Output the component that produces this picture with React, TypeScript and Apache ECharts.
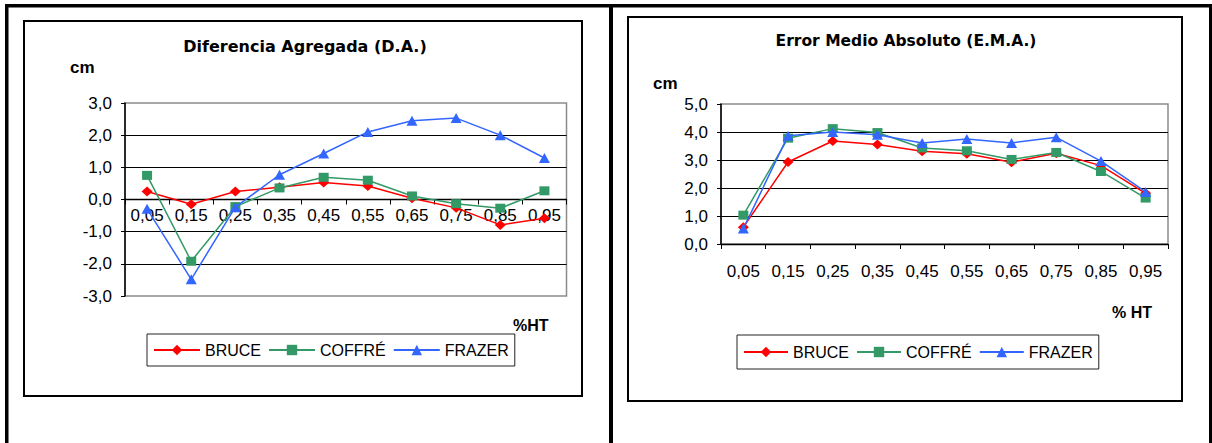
import React, { useEffect, useRef } from "react";
import * as echarts from "echarts";

// Heights along the stem (%HT)
const categories = ["0,05", "0,15", "0,25", "0,35", "0,45", "0,55", "0,65", "0,75", "0,85", "0,95"];
const seriesNames = ["BRUCE", "COFFRÉ", "FRAZER"];

// Diferencia Agregada (cm)
const daBruce = [0.25, -0.15, 0.25, 0.38, 0.53, 0.42, 0.04, -0.26, -0.79, -0.58];
const daCoffre = [0.75, -1.92, -0.22, 0.36, 0.69, 0.6, 0.11, -0.13, -0.27, 0.27];
const daFrazer = [-0.29, -2.48, -0.24, 0.77, 1.43, 2.1, 2.45, 2.53, 2.0, 1.29];

// Error Medio Absoluto (cm)
const emaBruce = [0.6, 2.93, 3.68, 3.55, 3.31, 3.22, 2.92, 3.24, 2.8, 1.81];
const emaCoffre = [1.03, 3.78, 4.12, 3.98, 3.43, 3.33, 3.02, 3.27, 2.59, 1.64];
const emaFrazer = [0.55, 3.87, 4.0, 3.9, 3.61, 3.75, 3.61, 3.81, 2.96, 1.86];

const colors = ["#ff0000", "#339966", "#3366ff"];
const symbols = ["diamond", "rect", "triangle"];
const symbolSizes = [[11, 10], [10, 9], [11, 10]];

const ARIAL = '"Liberation Sans", Arial, sans-serif';
const TITLE_FONT = '"DejaVu Sans", sans-serif';

// Plot areas
const DA_GRID = { left: 125, top: 103, width: 441.5, height: 193 };
const EMA_GRID = { left: 721, top: 104, width: 447, height: 140 };
const DA_MIN = -3;
const DA_MAX = 3;

const fmt = (v: number) => v.toFixed(1).replace(".", ",");

function lineSeries(name: string, idx: number, data: number[], axis: number) {
  return {
    type: "line",
    name,
    xAxisIndex: axis,
    yAxisIndex: axis,
    data,
    symbol: symbols[idx],
    symbolSize: symbolSizes[idx],
    lineStyle: { color: colors[idx], width: 1.5 },
    itemStyle: { color: colors[idx] },
    emphasis: { disabled: true },
    z: 3 + idx,
  };
}

function valueAxis(grid: number, min: number, max: number) {
  return {
    type: "value",
    gridIndex: grid,
    min,
    max,
    interval: 1,
    axisLine: { show: true, lineStyle: { color: "#000", width: 1.5 } },
    axisTick: { show: true, length: 4, lineStyle: { color: "#000" } },
    axisLabel: {
      formatter: fmt,
      fontSize: 17,
      fontFamily: ARIAL,
      color: "#000",
      margin: 13,
    },
    splitLine: {
      show: true,
      showMinLine: false,
      showMaxLine: false,
      lineStyle: { color: "#000", width: 1 },
    },
  };
}

// The category axis sits on the zero line of the value axis: shift it up
// from the grid bottom by the distance between the minimum and zero.
function categoryAxis(grid: number, margin: number, offset: number) {
  return {
    type: "category",
    gridIndex: grid,
    position: "bottom",
    offset,
    data: categories,
    boundaryGap: true,
    axisLine: { onZero: false, lineStyle: { color: "#000", width: 1.3 } },
    axisTick: { show: true, length: 5, lineStyle: { color: "#000" } },
    axisLabel: {
      interval: 0,
      fontSize: 17,
      fontFamily: ARIAL,
      color: "#000",
      margin,
    },
    splitLine: { show: false },
  };
}

function legend(left: number, top: number, itemWidth: number, padV: number) {
  return {
    left,
    top,
    orient: "horizontal",
    data: seriesNames,
    itemWidth,
    itemHeight: 13,
    itemGap: 7,
    padding: [padV, 6, padV, 6],
    borderColor: "#222",
    borderWidth: 1,
    selectedMode: false,
    textStyle: { fontSize: 16, fontFamily: ARIAL, color: "#000" },
  };
}

function text(x: number, y: number, t: string, font: string, align = "left") {
  return {
    type: "text",
    x,
    y,
    z: 10,
    style: { text: t, font, fill: "#000", align, verticalAlign: "middle" },
  };
}

export default function App() {
  const ref = useRef<HTMLDivElement>(null);

  useEffect(() => {
    const chart = echarts.init(ref.current!, null, { renderer: "svg" });
    const daZeroOffset = -(DA_GRID.height * (0 - DA_MIN)) / (DA_MAX - DA_MIN);
    chart.setOption({
      animation: false,
      backgroundColor: "#fff",
      grid: [
        { ...DA_GRID, show: true, borderColor: "#8c8c8c", borderWidth: 1.5, backgroundColor: "transparent" },
        { ...EMA_GRID, show: true, borderColor: "#8c8c8c", borderWidth: 1.5, backgroundColor: "transparent" },
      ],
      xAxis: [categoryAxis(0, 7, daZeroOffset), categoryAxis(1, 19, 0)],
      yAxis: [valueAxis(0, DA_MIN, DA_MAX), valueAxis(1, 0, 5)],
      legend: [legend(147, 334, 46, 8), legend(737, 335, 44, 9)],
      series: [
        lineSeries(seriesNames[0], 0, daBruce, 0),
        lineSeries(seriesNames[1], 1, daCoffre, 0),
        lineSeries(seriesNames[2], 2, daFrazer, 0),
        lineSeries(seriesNames[0], 0, emaBruce, 1),
        lineSeries(seriesNames[1], 1, emaCoffre, 1),
        lineSeries(seriesNames[2], 2, emaFrazer, 1),
      ],
      graphic: [
        // page frame
        { type: "rect", z: 10, shape: { x: 5, y: 4, width: 1207, height: 3.5 }, style: { fill: "#000" } },
        { type: "rect", z: 10, shape: { x: 5, y: 4, width: 3.5, height: 439 }, style: { fill: "#000" } },
        { type: "rect", z: 10, shape: { x: 609, y: 4, width: 4, height: 439 }, style: { fill: "#000" } },
        { type: "rect", z: 10, shape: { x: 1209, y: 4, width: 3, height: 439 }, style: { fill: "#000" } },
        // chart boxes
        { type: "rect", z: 10, shape: { x: 24, y: 21, width: 558, height: 375 }, style: { fill: "none", stroke: "#000", lineWidth: 2 } },
        { type: "rect", z: 10, shape: { x: 628, y: 17, width: 554, height: 384 }, style: { fill: "none", stroke: "#000", lineWidth: 2 } },
        // titles and axis names
        text(305, 46, "Diferencia Agregada (D.A.)", `bold 16px ${TITLE_FONT}`, "center"),
        text(906, 41, "Error Medio Absoluto (E.M.A.)", `bold 15.5px ${TITLE_FONT}`, "center"),
        text(70, 67, "cm", `bold 17px ${ARIAL}`),
        text(653, 83, "cm", `bold 17px ${ARIAL}`),
        text(513, 325, "%HT", `bold 16px ${ARIAL}`),
        text(1112, 312, "% HT", `bold 16px ${ARIAL}`),
      ],
    });
    return () => chart.dispose();
  }, []);

  return (
    <div
      ref={ref}
      style={{ position: "absolute", left: 0, top: 0, width: 1212, height: 443, background: "#fff" }}
    />
  );
}
